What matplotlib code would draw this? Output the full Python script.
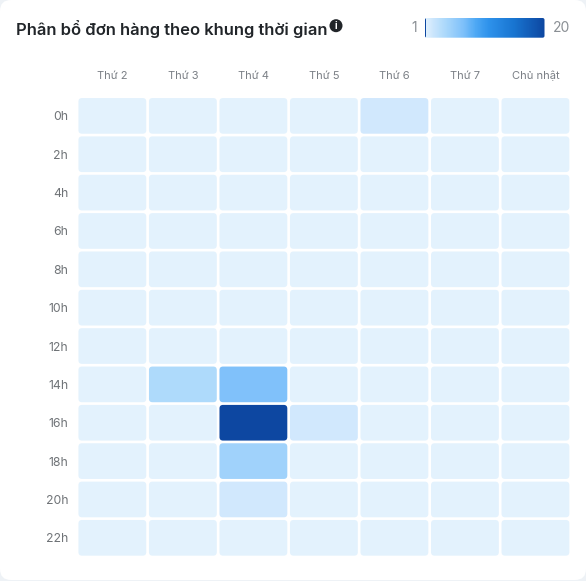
import matplotlib
matplotlib.use("Agg")
import matplotlib.pyplot as plt
import numpy as np
from matplotlib.colors import LinearSegmentedColormap, Normalize
from matplotlib.patches import Circle, FancyBboxPatch, Rectangle

plt.rcParams['font.family'] = ['Inter', 'DejaVu Sans']

# Data
days = ['Thứ 2', 'Thứ 3', 'Thứ 4', 'Thứ 5', 'Thứ 6', 'Thứ 7', 'Chủ nhật']
hours = ['0h', '2h', '4h', '6h', '8h', '10h', '12h', '14h', '16h', '18h', '20h', '22h']
thu_2 = [1, 1, 1, 1, 1, 1, 1, 1, 1, 1, 1, 1]
thu_3 = [1, 1, 1, 1, 1, 1, 1, 4, 1, 1, 1, 1]
thu_4 = [1, 1, 1, 1, 1, 1, 1, 7, 20, 5, 2, 1]
thu_5 = [1, 1, 1, 1, 1, 1, 1, 1, 2, 1, 1, 1]
thu_6 = [2, 1, 1, 1, 1, 1, 1, 1, 1, 1, 1, 1]
thu_7 = [1, 1, 1, 1, 1, 1, 1, 1, 1, 1, 1, 1]
chu_nhat = [1, 1, 1, 1, 1, 1, 1, 1, 1, 1, 1, 1]
vmin = 1
vmax = 20

W, H = 586, 581
values = np.array([thu_2, thu_3, thu_4, thu_5, thu_6, thu_7, chu_nhat]).T

# Colour scale, anchors
stops = [(1, '#E3F2FD'), (2, '#D0E8FD'), (4, '#AEDAFB'), (5, '#9FD2FB'), (7, '#7FC1FA'),
         (9, '#4FA9F5'), (11, '#2F93EC'), (15, '#1976D2'), (20, '#0D47A1')]
norm = Normalize(vmin, vmax)
cmap = LinearSegmentedColormap.from_list('blues', [(norm(v), c) for v, c in stops])

fig = plt.figure(figsize=(W / 100, H / 100), dpi=100, facecolor='#EEF2F6')


def px_axes(x0, y0, x1, y1):
    # axes placed by pixel box, y measured from the top
    return fig.add_axes([x0 / W, 1 - y1 / H, (x1 - x0) / W, (y1 - y0) / H])


# White card behind everything
card = px_axes(0, 0, W, H)
card.set_xlim(0, W)
card.set_ylim(H, 0)
card.axis('off')
card.add_patch(FancyBboxPatch((0, 0), W, H - 1, boxstyle='round,pad=0,rounding_size=11',
                              fc='white', ec='none'))
card.text(16, 29, 'Phân bổ đơn hàng theo khung thời gian', fontsize=11.95, fontweight='semibold',
          color='#212529', ha='left', va='center')
card.add_patch(Circle((336, 25.7), 6.5, fc='#212529', ec='none'))
card.text(336, 25.9, 'i', fontsize=7, fontweight='bold', color='white', ha='center', va='center')
card.text(414, 27.5, str(vmin), fontsize=10, color='#8A8F94', ha='center', va='center')
card.text(561.3, 27.5, str(vmax), fontsize=10, color='#8A8F94', ha='center', va='center')

# Heatmap
ax = px_axes(77.1, 96.7, 570.7, 557)
ax.set_xlim(0, len(days))
ax.set_ylim(len(hours), 0)
ax.patch.set_alpha(0)
for s in ax.spines.values():
    s.set_visible(False)
ax.set_xticks(np.arange(len(days)) + 0.5, days)
ax.set_yticks(np.arange(len(hours)) + 0.5, hours)
ax.xaxis.tick_top()
ax.tick_params(axis='x', length=0, labelsize=8, labelcolor='#7A7F85', pad=11)
ax.tick_params(axis='y', length=0, labelsize=8.8, labelcolor='#6F7377', pad=6.5)

pad_x = 0.019
pad_y = 0.035
for r in range(len(hours)):
    for c in range(len(days)):
        ax.add_patch(FancyBboxPatch((c + pad_x, r + pad_y), 1 - 2 * pad_x, 1 - 2 * pad_y,
                                    boxstyle='round,pad=0,rounding_size=0.05',
                                    mutation_aspect=(493.6 / 7) / (460.3 / 12),
                                    fc=cmap(norm(values[r, c])), ec='none'))

# Legend bar, rounded via a clip box
cax = px_axes(425, 18, 544.5, 37.7)
cax.set_xlim(vmin, vmax)
cax.set_ylim(0, 1)
cax.axis('off')
clip = FancyBboxPatch((vmin, 0), vmax - vmin, 1, boxstyle='round,pad=0,rounding_size=0.3',
                      mutation_aspect=(119.5 / 19) / 19.7, fc='none', ec='none',
                      transform=cax.transData)
cax.add_patch(clip)
img = cax.imshow(np.linspace(vmin, vmax, 240)[None, :], cmap=cmap, norm=norm, aspect='auto',
                 extent=[vmin, vmax, 0, 1])
img.set_clip_path(clip)
tick = cax.add_patch(Rectangle((vmin, 0), 0.14, 1, fc='#0D47A1', ec='none'))
tick.set_clip_path(clip)

fig.savefig('out.png', dpi=100, facecolor=fig.get_facecolor())
